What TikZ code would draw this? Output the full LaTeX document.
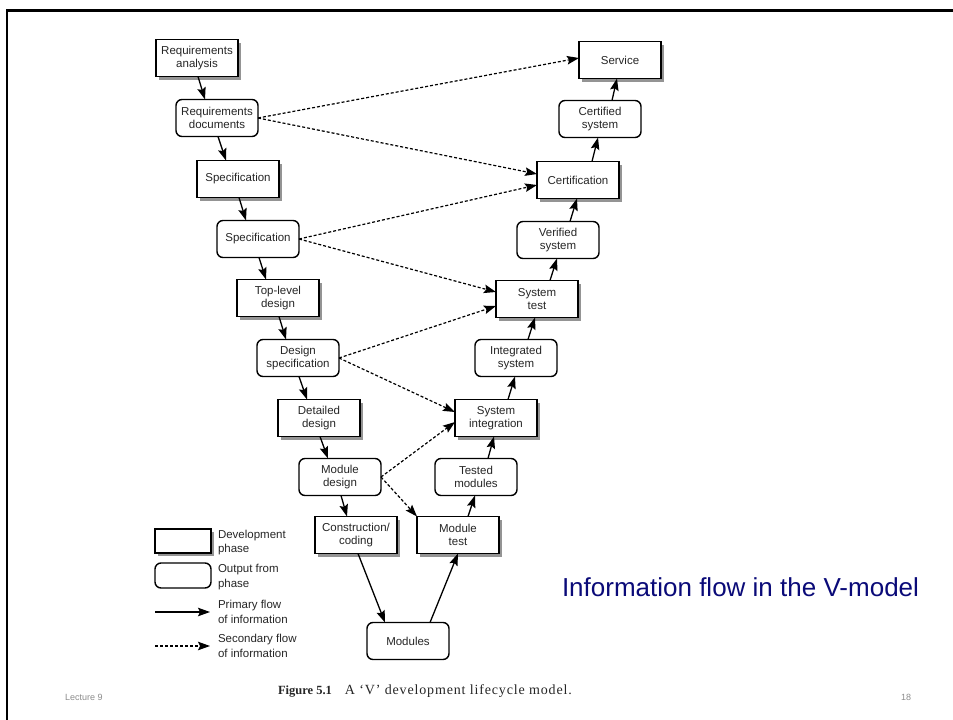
\documentclass[tikz,border=0pt]{standalone}
\usepackage{fontspec}
\setmainfont{Liberation Sans}
\newfontfamily\capfont{Liberation Serif}
\usetikzlibrary{arrows.meta,shadows}
\definecolor{ink}{HTML}{262626}
\definecolor{titleblue}{RGB}{10,10,120}
\definecolor{footgray}{HTML}{8C8C8C}
\newcommand\nodetextfont{\fontsize{11.5}{13}\selectfont}
\begin{document}
\begin{tikzpicture}[x=1pt,y=-1pt,
  every node/.style={inner sep=0pt, outer sep=0pt},
  phase/.style={draw=black, line width=1.4pt, fill=white,
    minimum width=82pt, minimum height=37pt, align=center,
    font=\nodetextfont, text=ink,
    drop shadow={shadow xshift=3pt, shadow yshift=-3pt, fill=black!42, opacity=1}},
  output/.style={draw=black, line width=1.4pt, fill=white, rounded corners=6pt,
    minimum width=82pt, minimum height=37pt, align=center,
    font=\nodetextfont, text=ink},
  pri/.style={line width=1.3pt, -{Stealth[length=12pt,width=8.5pt,inset=2pt]}},
  sec/.style={line width=1.2pt, dash pattern=on 3pt off 2pt,
    -{Stealth[length=12pt,width=8.5pt,inset=2pt]}},
  legtext/.style={anchor=west, align=left, text=ink,
    font=\fontsize{11.5}{14.5}\selectfont},
]
\useasboundingbox (0,0) rectangle (953,720);

% slide frame
\draw[line width=2.6pt] (7,720) -- (7,10.5) -- (953,10.5);

% left branch of the V
\node[phase]  (ra)  at (197,58)  {Requirements\\analysis};
\node[output] (rd)  at (217,118) {Requirements\\documents};
\node[phase]  (sp1) at (238,179) {Specification};
\node[output] (sp2) at (258,239) {Specification};
\node[phase]  (tl)  at (278,298) {Top-level\\design};
\node[output] (ds)  at (298,358) {Design\\specification};
\node[phase]  (dd)  at (319,418) {Detailed\\design};
\node[output] (md)  at (340,477) {Module\\design};
\node[phase]  (cc)  at (356,535) {Construction/\\coding};
\node[output] (mo)  at (408,641) {Modules};

% right branch of the V
\node[phase]  (mt)  at (458,535) {Module\\test};
\node[output] (tm)  at (476,477) {Tested\\modules};
\node[phase]  (si)  at (496,418) {System\\integration};
\node[output] (is)  at (516,358) {Integrated\\system};
\node[phase]  (st)  at (537,299) {System\\test};
\node[output] (vs)  at (558,240) {Verified\\system};
\node[phase]  (ce)  at (578,180) {Certification};
\node[output] (cs)  at (600,119) {Certified\\system};
\node[phase]  (sv)  at (620,60)  {Service};

% primary flow, going down
\draw[pri] ([xshift=1pt]ra.south)  -- ([xshift=-12pt]rd.north);
\draw[pri] ([xshift=1pt]rd.south)  -- ([xshift=-12pt]sp1.north);
\draw[pri] ([xshift=1pt]sp1.south) -- ([xshift=-12pt]sp2.north);
\draw[pri] ([xshift=1pt]sp2.south) -- ([xshift=-12pt]tl.north);
\draw[pri] ([xshift=1pt]tl.south)  -- ([xshift=-12pt]ds.north);
\draw[pri] ([xshift=1pt]ds.south)  -- ([xshift=-12pt]dd.north);
\draw[pri] ([xshift=1pt]dd.south)  -- ([xshift=-12pt]md.north);
\draw[pri] ([xshift=1pt]md.south)  -- ([xshift=-9pt]cc.north);
\draw[pri] ([xshift=2pt]cc.south)  -- ([xshift=-23pt]mo.north);

% primary flow, going up
\draw[pri] ([xshift=22pt]mo.north) -- (mt.south);
\draw[pri] ([xshift=10pt]mt.north) -- ([xshift=-1pt]tm.south);
\draw[pri] ([xshift=12pt]tm.north) -- ([xshift=-2pt]si.south);
\draw[pri] ([xshift=12pt]si.north) -- ([xshift=-1pt]is.south);
\draw[pri] ([xshift=12pt]is.north) -- ([xshift=-2pt]st.south);
\draw[pri] ([xshift=13pt]st.north) -- ([xshift=-1pt]vs.south);
\draw[pri] ([xshift=12pt]vs.north) -- ([xshift=-1pt]ce.south);
\draw[pri] ([xshift=14pt]ce.north) -- ([xshift=-2pt]cs.south);
\draw[pri] ([xshift=12pt]cs.north) -- ([xshift=-3pt]sv.south);

% secondary flow across the V
\draw[sec] (rd.east)  -- ([yshift=2pt]sv.west);
\draw[sec] (rd.east)  -- ([yshift=6pt]ce.west);
\draw[sec] (sp2.east) -- ([yshift=-5pt]ce.west);
\draw[sec] (sp2.east) -- ([yshift=7pt]st.west);
\draw[sec] (ds.east)  -- ([yshift=-7pt]st.west);
\draw[sec] (ds.east)  -- ([yshift=6pt]si.west);
\draw[sec] (md.east)  -- ([yshift=-4pt]si.west);
\draw[sec] (md.east)  -- (mt.north west);

% key
\node[phase, minimum width=56pt, minimum height=24pt]  (k1) at (183,541) {};
\node[output, minimum width=56pt, minimum height=25pt] (k2) at (183,575.5) {};
\coordinate (p1) at (155,612);
\coordinate (p2) at (210,612);
\coordinate (s1) at (155,646);
\coordinate (s2) at (210,646);
\draw[pri] (p1) -- (p2);
\draw[sec] (s1) -- (s2);
\node[legtext] (t1) at (218,542.5) {Development\\phase};
\node[legtext] (t2) at (218,577)   {Output from\\phase};
\node[legtext] (t3) at (218,612)   {Primary flow\\of information};
\node[legtext] (t4) at (218,646)   {Secondary flow\\of information};

% caption, title and footer
\node[anchor=base west, text=ink, font=\capfont\fontsize{12.5}{14}\selectfont]
  (cap) at (278,694) {\textbf{Figure 5.1}\hspace{13pt}{\fontsize{14}{16}\selectfont\addfontfeature{LetterSpace=6}A ‘V’ development lifecycle model.}};
\node[anchor=west, text=titleblue, font=\fontsize{26}{30}\selectfont]
  (title) at (562,587) {Information flow in the V-model};
\node[anchor=west, text=footgray, font=\fontsize{9}{10}\selectfont]
  (lec) at (65,697) {Lecture 9};
\node[anchor=east, text=footgray, font=\fontsize{9}{10}\selectfont]
  (pg) at (911,697) {18};
\end{tikzpicture}
\end{document}
